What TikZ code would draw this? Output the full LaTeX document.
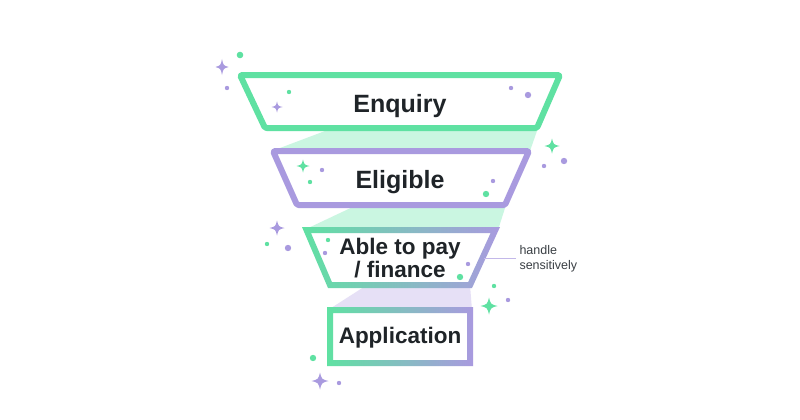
\documentclass[tikz,border=0pt]{standalone}
\usepackage{fontspec}
\setmainfont{Liberation Sans}

\definecolor{mint}{HTML}{5FE1A2}
\definecolor{lilac}{HTML}{A99ADF}
\definecolor{mintpale}{HTML}{CAF6E1}
\definecolor{lilacpale}{HTML}{E6E0F6}
\definecolor{ink}{HTML}{1F2428}
\definecolor{notegray}{HTML}{3A3F44}

\tikzset{sparkle/.pic={
  \fill[#1] (0,-1) .. controls (0.2,-0.2) .. (1,0) .. controls (0.2,0.2) .. (0,1)
    .. controls (-0.2,0.2) .. (-1,0) .. controls (-0.2,-0.2) .. cycle;}}

\begin{document}
\begin{tikzpicture}[x=1pt,y=-1pt,
  stage/.style={text=ink, font=\bfseries\fontsize{25}{30}\selectfont, anchor=base},
  stagesmall/.style={text=ink, font=\bfseries\fontsize{22.5}{23}\selectfont, anchor=base, align=center},
  ring/.style={line width=6pt, line join=round, rounded corners=1.5pt}]
	\useasboundingbox[fill=white] (0,0) rectangle (800,420);

	% ribbons between the stages
	\fill[mintpale] (333,128) -- (538,128) -- (530,151) -- (272,151) -- cycle;
	\fill[mintpale] (357,205) -- (506,205) -- (498,230) -- (304,230) -- cycle;
	\fill[lilacpale] (367,285) -- (470,285) -- (472,310) -- (328,310) -- cycle;

	% funnel stages
	\draw[ring, mint] (240,75) -- (560,75) -- (537,128) -- (265,128) -- cycle;
	\draw[ring, lilac] (273,151) -- (529,151) -- (505,205) -- (297,205) -- cycle;
	\shade[left color=mint, right color=lilac, even odd rule]
		(302,227) -- (500,227) -- (472,288) -- (328,288) -- cycle
		(311,233) -- (490.6,233) -- (468.2,282) -- (331.9,282) -- cycle;
	\shade[left color=mint, right color=lilac, even odd rule]
		(327,307) rectangle (473,366)
		(333,313) rectangle (467,360);

	\node[stage] (enquiry) at (400,112) {Enquiry};
	\node[stage] (eligible) at (400,188) {Eligible};
	\node[stagesmall] (pay) at (400,254) {Able to pay};
	\node[stagesmall] (finance) at (400,277) {/ finance};
	\node[stagesmall] (application) at (400,343) {Application};

	% side note
	\node[text=notegray, font=\fontsize{12.5}{15}\selectfont, anchor=west, align=left]
		(note) at (516,259) {handle\\sensitively};
	\coordinate (notetick) at (484,258);
	\draw[lilac!70, line width=0.8pt] (notetick) -- (note.west |- notetick);

	% sparkles
	\pic[xscale=6.5, yscale=8] at (222,67) {sparkle=lilac};
	\pic[scale=5.5] at (277,107) {sparkle=lilac};
	\pic[scale=7.5] at (552,146) {sparkle=mint};
	\pic[scale=6.5] at (303,166) {sparkle=mint};
	\pic[scale=7.5] at (277,228) {sparkle=lilac};
	\pic[scale=8.5] at (489,306) {sparkle=mint};
	\pic[scale=8.5] at (320,381) {sparkle=lilac};

	% dots
	\foreach \x/\y/\r in {240/55/3.3, 289/92/2.2, 310/182/2.2, 486/194/3.2,
		267/244/2.2, 328/240/2.2, 460/277/3.2, 494/286/2.2, 313/358/3.2}
		\fill[mint] (\x,\y) circle (\r pt);
	\foreach \x/\y/\r in {227/88/2.2, 511/88/2.2, 528/95/3.2, 564/161/3.2,
		544/166/2.2, 322/170/2.2, 493/181/2.2, 288/248/3.2, 325/253/2.2,
		468/264/2.2, 508/300/2.2, 339/383/2.2}
		\fill[lilac] (\x,\y) circle (\r pt);
\end{tikzpicture}
\end{document}
